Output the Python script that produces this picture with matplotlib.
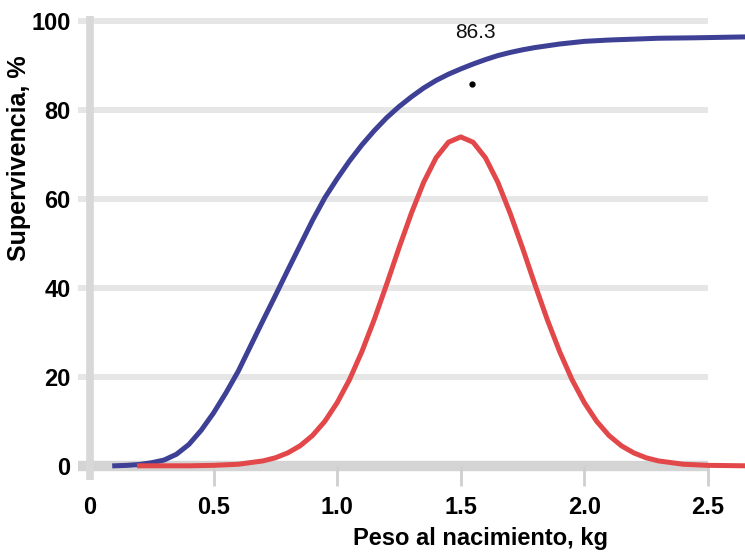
import matplotlib.pyplot as plt
from matplotlib import font_manager

# Datos
peso_azul = [0.10, 0.15, 0.20, 0.25, 0.30, 0.35, 0.40, 0.45, 0.50, 0.55, 0.60, 0.65,
             0.70, 0.75, 0.80, 0.85, 0.90, 0.95, 1.00, 1.05, 1.10, 1.15, 1.20, 1.25,
             1.30, 1.35, 1.40, 1.45, 1.50, 1.55, 1.60, 1.65, 1.70, 1.75, 1.80, 1.85,
             1.90, 1.95, 2.00, 2.10, 2.20, 2.30, 2.45, 2.65]
supervivencia = [0, 0.1, 0.3, 0.7, 1.3, 2.6, 4.8, 8.0, 11.9, 16.4, 21.3, 27,
                 32.7, 38.3, 44, 49.6, 55.2, 60.3, 64.6, 68.6, 72.2, 75.4, 78.3, 80.8,
                 83, 85, 86.7, 88.1, 89.3, 90.4, 91.4, 92.3, 93.0, 93.6, 94.1, 94.5,
                 94.9, 95.2, 95.5, 95.8, 96.0, 96.2, 96.3, 96.5]

peso_rojo = [0.20, 0.40, 0.50, 0.60, 0.70, 0.75, 0.80, 0.85, 0.90, 0.95, 1.00, 1.05,
             1.10, 1.15, 1.20, 1.25, 1.30, 1.35, 1.40, 1.45, 1.50, 1.55, 1.60, 1.65,
             1.70, 1.75, 1.80, 1.85, 1.90, 1.95, 2.00, 2.05, 2.10, 2.15, 2.20, 2.25,
             2.30, 2.40, 2.50, 2.65]
distribucion = [0, 0, 0.1, 0.35, 1.1, 1.8, 2.9, 4.5, 6.8, 10, 14.2, 19.4,
                25.7, 32.9, 40.8, 49, 56.8, 63.8, 69.3, 72.8, 74, 72.8, 69.3, 63.8,
                56.8, 49, 40.8, 32.9, 25.7, 19.4, 14.2, 10, 6.8, 4.5, 2.9, 1.8,
                1.1, 0.35, 0.1, 0]

punto_x = [1.547]
punto_y = [85.8]
etiqueta_punto = "86.3"

xticks = [0, 0.5, 1.0, 1.5, 2.0, 2.5]
xtick_labels = ["0", "0.5", "1.0", "1.5", "2.0", "2.5"]
yticks = [0, 20, 40, 60, 80, 100]

nombres = {f.name for f in font_manager.fontManager.ttflist}
fuente = ['Liberation Sans Narrow', 'Liberation Sans', 'DejaVu Sans']
fuente = [f for f in fuente if f in nombres] or ['DejaVu Sans']
plt.rcParams['font.family'] = fuente

fig = plt.figure(figsize=(7.45, 5.53), dpi=100)
ax = fig.add_axes([0.1042, 0.1175, 0.8958, 0.868])

# lineas de la cuadricula y ejes
for y in yticks[1:]:
    ax.hlines(y, -0.05, 2.5, color='#e6e6e6', lw=4.3, zorder=1)
ax.hlines(0, -0.05, 2.5, color='#d4d4d4', lw=7.5, zorder=1)
ax.vlines(0, -3.2, 101.3, color='#d8d8d8', lw=5.5, zorder=1)
ax.vlines(xticks[1:], -4.5, 0, color='#cfcfcf', lw=2, zorder=1)

ax.plot(peso_azul, supervivencia, color='#3d4095', lw=3.6, zorder=3,
        solid_joinstyle='round')
ax.plot(peso_rojo, distribucion, color='#e2474a', lw=3.6, zorder=3,
        solid_joinstyle='round')
ax.plot(punto_x, punto_y, 'o', color='black', ms=3.5, zorder=4)
ax.text(1.559, 97.4, etiqueta_punto, ha='center', va='center', fontsize=15,
        color='#111111')

ax.set_xlim(-0.05, 2.65)
ax.set_ylim(-5, 103)
for s in ax.spines.values():
    s.set_visible(False)

ax.set_xticks(xticks)
ax.set_xticklabels(xtick_labels, fontsize=17, fontweight='bold')
ax.set_yticks(yticks)
ax.set_yticklabels([str(v) for v in yticks], fontsize=17, fontweight='bold')
ax.tick_params(axis='both', length=0)
ax.tick_params(axis='x', pad=6)
ax.tick_params(axis='y', pad=5)

ax.set_xlabel('Peso al nacimiento, kg', fontsize=17, fontweight='bold')
ax.xaxis.set_label_coords(0.603, -0.082)
ax.set_ylabel('Supervivencia, %', fontsize=18, fontweight='bold')
ax.yaxis.set_label_coords(-0.07, 0.6875)

fig.savefig('out.png', dpi=100)
